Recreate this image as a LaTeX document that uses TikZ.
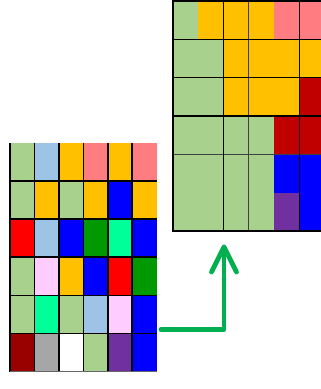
\documentclass[tikz,border=0pt]{standalone}
\usetikzlibrary{calc}
\definecolor{lgreen}{HTML}{A9D18E}
\definecolor{lblue}{HTML}{9DC3E6}
\definecolor{gold}{HTML}{FFC000}
\definecolor{salmon}{HTML}{FF7C80}
\definecolor{pblue}{HTML}{0000FF}
\definecolor{pred}{HTML}{FF0000}
\definecolor{pgreen}{HTML}{009A00}
\definecolor{spring}{HTML}{00FF99}
\definecolor{lpink}{HTML}{FFCCFF}
\definecolor{maroon}{HTML}{990000}
\definecolor{pgray}{HTML}{A6A6A6}
\definecolor{ppurple}{HTML}{7030A0}
\definecolor{dred}{HTML}{C00000}
\definecolor{arrowgreen}{HTML}{00B050}
\tikzset{
  thickgrid/.style={draw=black, line width=1.6pt},
  thingrid/.style={draw=black!75, line width=1pt},
  greenarrow/.style={draw=arrowgreen, line width=4.8pt, line cap=round, line join=round}
}
\begin{document}
\begin{tikzpicture}[x=1pt,y=-1pt]
\useasboundingbox (0,0) rectangle (321,389);
% ---------- left grid ----------
\def\lx{10}\def\ly{142.7}\def\lw{24.45}\def\lh{38.17}
\foreach \row [count=\r from 0] in {
  {lgreen,lblue,gold,salmon,gold,salmon},
  {lgreen,gold,lgreen,gold,pblue,gold},
  {pred,lblue,pblue,pgreen,spring,pblue},
  {lgreen,lpink,gold,pblue,pred,pgreen},
  {lgreen,spring,lgreen,lblue,lpink,pblue},
  {maroon,pgray,white,lgreen,ppurple,pblue}}{
  \foreach \c [count=\k from 0] in \row {
    \fill[\c] ({\lx+\k*\lw},{\ly+\r*\lh}) rectangle ({\lx+(\k+1)*\lw},{\ly+(\r+1)*\lh});
  }
}
\foreach \k in {1,...,5}
  \draw[thickgrid] ({\lx+\k*\lw},\ly) -- ({\lx+\k*\lw},{\ly+6*\lh});
\foreach \r in {1,...,5}
  \draw[thickgrid] (\lx,{\ly+\r*\lh}) -- ({\lx+6*\lw},{\ly+\r*\lh});
\draw[thickgrid] (\lx,\ly) -- (\lx,{\ly+6*\lh});
\draw[thingrid, draw=black!60] (\lx,{\ly+6*\lh}) -- ({\lx+6*\lw},{\ly+6*\lh});
% ---------- right grid ----------
\def\rx{172.7}\def\ry{1}\def\rw{25.33}\def\rh{38.33}
\foreach \row [count=\r from 0] in {
  {lgreen,gold,gold,gold,salmon,salmon},
  {lgreen,lgreen,gold,gold,gold,gold},
  {lgreen,lgreen,gold,gold,gold,dred},
  {lgreen,lgreen,lgreen,lgreen,dred,dred},
  {lgreen,lgreen,lgreen,lgreen,pblue,pblue},
  {lgreen,lgreen,lgreen,lgreen,ppurple,pblue}}{
  \foreach \c [count=\k from 0] in \row {
    \fill[\c] ({\rx+\k*\rw},{\ry+\r*\rh}) rectangle ({\rx+(\k+1)*\rw},{\ry+(\r+1)*\rh});
  }
}
\draw[thingrid] ({\rx+3*\rw},\ry) -- ({\rx+3*\rw},{\ry+6*\rh});
\draw[thingrid] (\rx,{\ry+4*\rh}) -- ({\rx+6*\rw},{\ry+4*\rh});
\foreach \k in {2,5}
  \draw[thickgrid] ({\rx+\k*\rw},\ry) -- ({\rx+\k*\rw},{\ry+6*\rh});
\foreach \r in {1,2,3}
  \draw[thickgrid] (\rx,{\ry+\r*\rh}) -- ({\rx+6*\rw},{\ry+\r*\rh});
\draw[thickgrid] ({\rx+6*\rw},\ry) -- (\rx,\ry) -- (\rx,{\ry+6*\rh}) -- ({\rx+6*\rw},{\ry+6*\rh});
% ---------- arrow ----------
\coordinate (start) at (161,329.3);
\coordinate (tip) at (224,247);
\draw[greenarrow] (start) -| (tip);
\draw[greenarrow] ($(tip)+(-12.5,25)$) -- (tip) -- ($(tip)+(12.5,25)$);
\end{tikzpicture}
\end{document}
